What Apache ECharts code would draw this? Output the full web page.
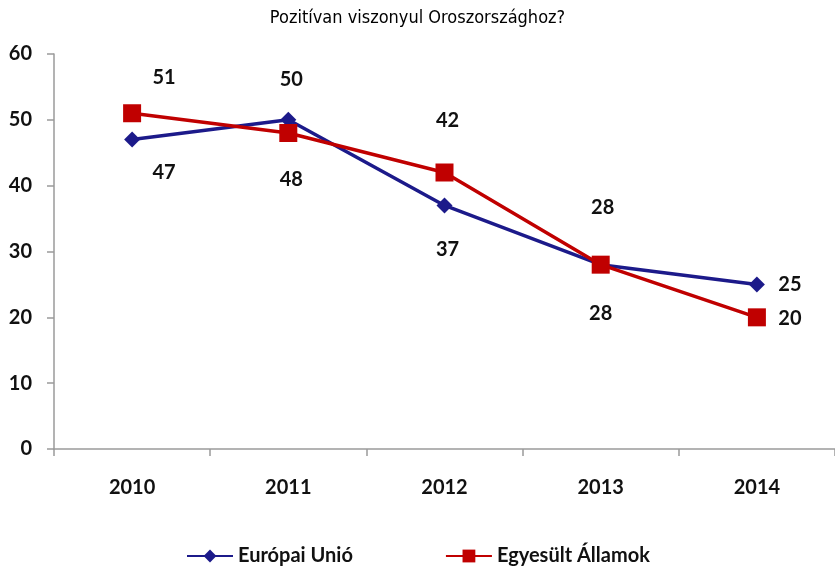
<!DOCTYPE html>
<html lang="hu">
<head>
  <meta charset="UTF-8">
  <title>Pozitívan viszonyul Oroszországhoz?</title>
  <script src="https://cdn.jsdelivr.net/npm/echarts@6.0.0/dist/echarts.min.js"></script>
</head>
<style>
  html, body { margin: 0; padding: 0; background: #fff; }
  #main { width: 835px; height: 568px; }
</style>
<body>
<div id="main"></div>
<script>
  const years = ['2010', '2011', '2012', '2013', '2014']
  const euValues = [47, 50, 37, 28, 25]
  const usValues = [51, 48, 42, 28, 20]
  const yTicks = [0, 10, 20, 30, 40, 50, 60]

  // where each data label sits, relative to its point (px)
  const euLabelOffsets = [[32, 33], [3, -40], [3, 44], [0, 49], [33, 0]]
  const usLabelOffsets = [[32, -36], [3, 47], [3, -52], [2, -57], [33, 1]]

  const labelFont = 'Lato, "Open Sans", sans-serif'

  function withLabels (values, offsets) {
    return values.map((v, i) => ({
      value: v,
      label: { offset: offsets[i] }
    }))
  }

  const chart = echarts.init(document.getElementById('main'))
  chart.setOption({
    animation: false,
    title: {
      text: 'Pozitívan viszonyul Oroszországhoz?',
      left: 'center',
      top: 4,
      textStyle: {
        fontFamily: '"DejaVu Sans Condensed", sans-serif',
        fontWeight: 'normal',
        fontSize: 18,
        color: '#000'
      }
    },
    legend: {
      left: 181,
      top: 541,
      itemWidth: 46,
      itemHeight: 16,
      itemGap: 92,
      textStyle: { fontFamily: labelFont, fontWeight: 'bold', fontSize: 20, color: '#111' },
      data: ['Európai Unió', 'Egyesült Államok']
    },
    grid: { left: 54, top: 54, width: 786, height: 395, containLabel: false },
    xAxis: {
      type: 'category',
      data: years,
      boundaryGap: true,
      axisLine: { lineStyle: { color: '#9a9a9a', width: 1.5 } },
      axisTick: { show: true, length: 7, lineStyle: { color: '#9a9a9a', width: 1.5 } },
      axisLabel: { margin: 29, fontFamily: labelFont, fontWeight: 'bold', fontSize: 20, color: '#111' }
    },
    yAxis: {
      type: 'value',
      min: yTicks[0],
      max: yTicks[yTicks.length - 1],
      interval: 10,
      splitLine: { show: false },
      axisLine: { show: true, lineStyle: { color: '#9a9a9a', width: 1.5 } },
      axisTick: { show: true, length: 7, lineStyle: { color: '#9a9a9a', width: 1.5 } },
      axisLabel: { margin: 22, fontFamily: labelFont, fontWeight: 'bold', fontSize: 20, color: '#111' }
    },
    series: [
      {
        name: 'Európai Unió',
        type: 'line',
        data: withLabels(euValues, euLabelOffsets),
        symbol: 'diamond',
        symbolSize: 16,
        itemStyle: { color: '#1c1a8a' },
        lineStyle: { color: '#1c1a8a', width: 3.5 },
        label: {
          show: true,
          position: 'inside',
          fontFamily: labelFont,
          fontWeight: 'bold',
          fontSize: 20,
          color: '#111'
        }
      },
      {
        name: 'Egyesült Államok',
        type: 'line',
        data: withLabels(usValues, usLabelOffsets),
        symbol: 'rect',
        symbolSize: 18,
        itemStyle: { color: '#c00000' },
        lineStyle: { color: '#c00000', width: 3.5 },
        label: {
          show: true,
          position: 'inside',
          fontFamily: labelFont,
          fontWeight: 'bold',
          fontSize: 20,
          color: '#111'
        }
      }
    ]
  })
</script>
</body>
</html>
